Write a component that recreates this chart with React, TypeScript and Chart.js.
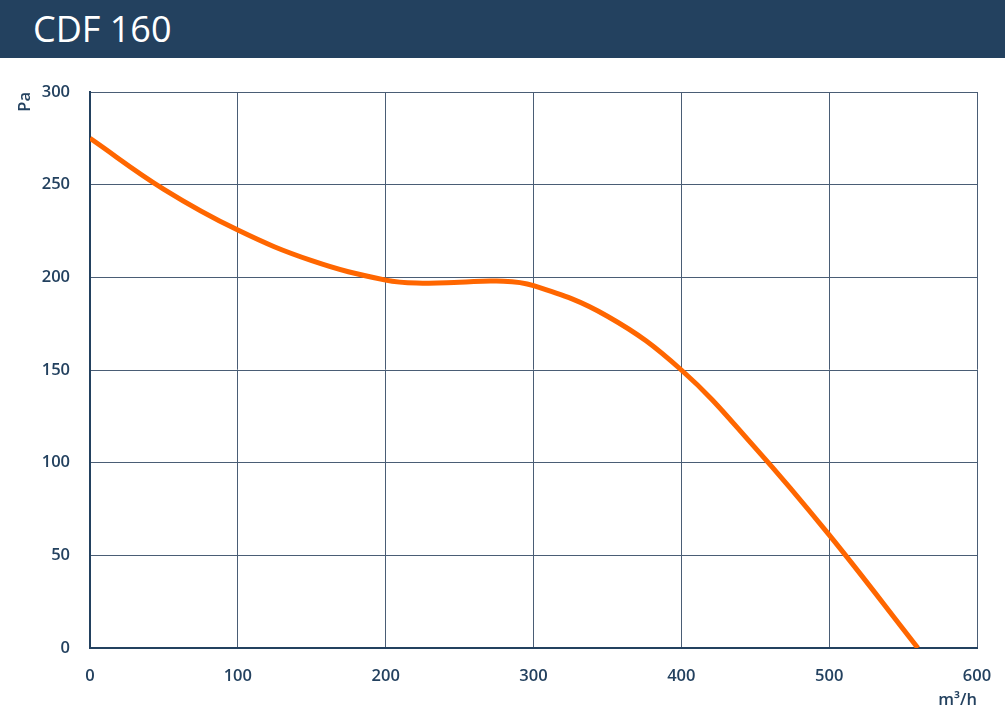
import React, { useEffect, useRef } from "react";
import { Chart, registerables } from "chart.js";

Chart.register(...registerables);

const TITLE = "CDF 160";
const airflow = [0, 50, 100, 150, 200, 225, 250, 275, 300, 350, 400, 450, 500, 560];
const pressure = [275, 247.5, 225.5, 209, 198.5, 196.8, 197.3, 198, 195.5, 179, 150, 108, 61, 0];
const X_TITLE = "m³/h";
const Y_TITLE = "Pa";

const NAVY = "#23415f";

export default function App() {
  const ref = useRef<HTMLCanvasElement | null>(null);

  useEffect(() => {
    document.body.style.margin = "0";
    const ctx = ref.current!;
    const font = { family: "Open Sans", size: 16.5, weight: 600 };
    const chart = new Chart(ctx, {
      type: "line",
      data: {
        datasets: [
          {
            data: airflow.map((x, i) => ({ x, y: pressure[i] })),
            borderColor: "#ff6600",
            borderWidth: 5,
            pointRadius: 0,
            tension: 0.4,
            fill: false,
          },
        ],
      },
      options: {
        animation: false,
        responsive: false,
        devicePixelRatio: 1,
        layout: { padding: { top: 34, right: 28, left: 0, bottom: 0 } },
        plugins: { legend: { display: false }, tooltip: { enabled: false } },
        scales: {
          x: {
            type: "linear",
            min: 0,
            max: 600,
            ticks: { stepSize: 100, padding: 18, color: NAVY, font },
            grid: { color: "#4a5d75", lineWidth: 1, drawTicks: false },
            border: { color: NAVY, width: 2 },
            title: {
              display: true,
              text: X_TITLE,
              align: "end",
              color: NAVY,
              font,
              padding: { top: 0, bottom: 6 },
            },
            afterFit: (s: any) => {
              s.height = 68;
              s.paddingLeft = 0;
              s.paddingRight = 0;
            },
          },
          y: {
            min: 0,
            max: 300,
            ticks: { stepSize: 50, padding: 20, color: NAVY, font },
            grid: { color: "#4a5d75", lineWidth: 1, drawTicks: false },
            border: { color: NAVY, width: 2 },
            title: {
              display: true,
              text: Y_TITLE,
              align: "end",
              color: NAVY,
              font,
              padding: { top: 15, bottom: 0 },
            },
            afterFit: (s: any) => {
              s.width = 90;
              s.paddingTop = 0;
              s.paddingBottom = 0;
            },
          },
        },
      },
    });
    return () => chart.destroy();
  }, []);

  return (
    <div style={{ position: "absolute", left: 0, top: 0, width: 1005, height: 716, background: "#fff" }}>
      <div
        style={{
          width: 1005,
          height: 58,
          background: NAVY,
          color: "#fff",
          fontFamily: "Open Sans",
          fontSize: 36,
          lineHeight: "58px",
          paddingLeft: 33,
          boxSizing: "border-box",
        }}
      >
        {TITLE}
      </div>
      <canvas ref={ref} width={1005} height={658} style={{ display: "block" }} />
    </div>
  );
}
